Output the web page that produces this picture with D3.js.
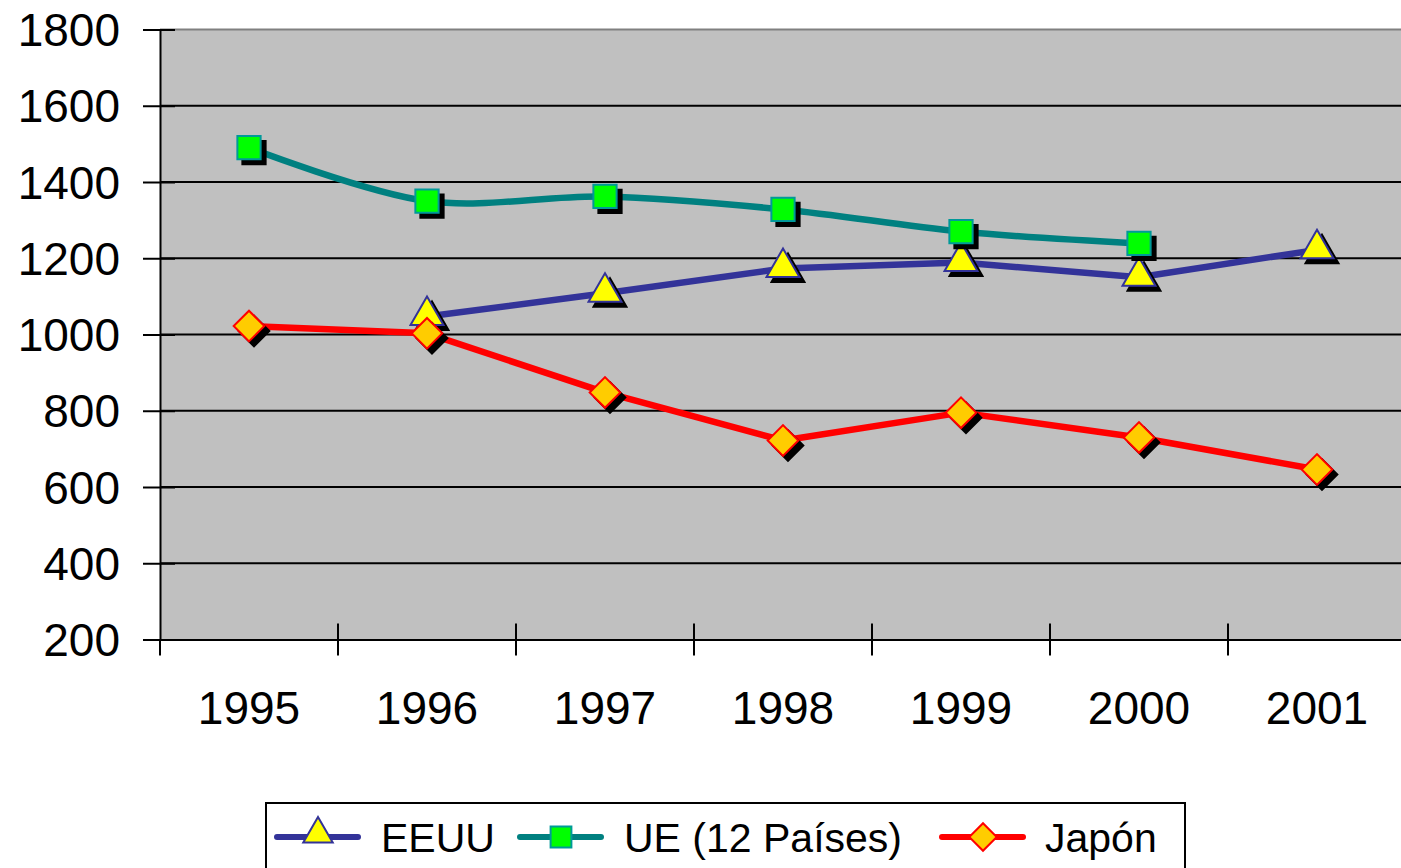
<!DOCTYPE html>
<html><head><meta charset="utf-8">
<script src="https://cdn.jsdelivr.net/npm/d3@7"></script>
<style>body{margin:0;background:#fff;overflow:hidden}svg{display:block}text{font-family:"Liberation Sans",Arial,sans-serif;fill:#000}</style>
</head><body>
<svg id="c" width="1401" height="868"></svg>
<script>
const years = ["1995","1996","1997","1998","1999","2000","2001"];
const eeuu = [null, 1047, 1108, 1173, 1189, 1150, 1222];
const ue = [1490, 1350, 1362, 1328, 1270, 1239, null];
const japon = [1022, 1003, 848, 722, 795, 730, 646];
const yTicks = [200,400,600,800,1000,1200,1400,1600,1800];
const seriesNames = ["EEUU","UE (12 Países)","Japón"];

const svg = d3.select("#c");
const x = d3.scaleBand().domain(years).range([160, 1406]).padding(0);
const y = d3.scaleLinear().domain([200,1800]).range([639.5, 29.5]);

svg.append("rect").attr("x",160).attr("y",y(1800)).attr("width",1246).attr("height",y(200)-y(1800)).attr("fill","#C0C0C0");
svg.append("line").attr("x1",160).attr("x2",1401).attr("y1",y(1800)).attr("y2",y(1800)).attr("stroke","#808080").attr("stroke-width",2);
svg.append("g").selectAll("line").data(yTicks.filter(d=>d>200 && d<1800)).join("line")
  .attr("x1",160).attr("x2",1406).attr("y1",d=>y(d)).attr("y2",d=>y(d)).attr("stroke","#000").attr("stroke-width",2);

const yAxis = d3.axisLeft(y).tickValues(yTicks).tickSize(0).tickPadding(40).tickFormat(d3.format("d"));
const gy = svg.append("g").attr("transform","translate(160,0)").call(yAxis);
gy.select(".domain").attr("stroke","#000").attr("stroke-width",2);
gy.selectAll("text").attr("font-size",46).attr("font-family","Liberation Sans, Arial, sans-serif").attr("dy","0.35em");
gy.selectAll(".tick").append("line").attr("x1",-17).attr("x2",15).attr("stroke","#000").attr("stroke-width",2);

const xAxis = d3.axisBottom(x).tickSize(0).tickPadding(52);
const gx = svg.append("g").attr("transform",`translate(0,${y(200)})`).call(xAxis);
gx.select(".domain").attr("stroke","#000").attr("stroke-width",2);
gx.selectAll("text").attr("font-size",46).attr("font-family","Liberation Sans, Arial, sans-serif");
const bounds = years.map(d=>x(d)).concat([x(years[6])+x.bandwidth()]);
gx.append("g").selectAll("line").data(bounds).join("line")
  .attr("x1",d=>d).attr("x2",d=>d).attr("y1",(d,i)=>i===0?0:-16).attr("y2",16).attr("stroke","#000").attr("stroke-width",2);

const cx = d => x(d) + x.bandwidth()/2;

const styles = [
  {data:eeuu, color:"#333399", curve:d3.curveLinear, sym:d3.symbolTriangle, size:470, rot:0, fill:"#FFFF00", stroke:"#333399", dy:-1},
  {data:ue, color:"#008080", curve:d3.curveCatmullRom.alpha(0.5), sym:d3.symbolSquare, size:540, rot:0, fill:"#00FF00", stroke:"#009999", dy:0},
  {data:japon, color:"#FF0000", curve:d3.curveLinear, sym:d3.symbolSquare, size:470, rot:45, fill:"#FFCC00", stroke:"#FF0000", dy:0}
];

styles.forEach(s=>{
  const pts = years.map((yr,i)=>({yr, v:s.data[i]})).filter(p=>p.v!==null);
  const line = d3.line().x(p=>cx(p.yr)).y(p=>y(p.v)).curve(s.curve);
  svg.append("path").attr("d",line(pts)).attr("fill","none").attr("stroke",s.color).attr("stroke-width",6.5).attr("stroke-linejoin","round");
  const sym = d3.symbol().type(s.sym).size(s.size);
  const g = svg.append("g");
  g.selectAll("path.sh").data(pts).join("path").attr("class","sh").attr("d",sym)
    .attr("transform",p=>`translate(${cx(p.yr)+5},${y(p.v)+s.dy+5}) rotate(${s.rot})`).attr("fill","#000").attr("stroke","#000").attr("stroke-width",2);
  g.selectAll("path.mk").data(pts).join("path").attr("class","mk").attr("d",sym)
    .attr("transform",p=>`translate(${cx(p.yr)},${y(p.v)+s.dy}) rotate(${s.rot})`).attr("fill",s.fill).attr("stroke",s.stroke).attr("stroke-width",2);
});

const lg = svg.append("g");
lg.append("rect").attr("x",266).attr("y",803).attr("width",919).attr("height",80).attr("fill","#fff").attr("stroke","#000").attr("stroke-width",2);
const legX = [277, 520, 942];
const txtX = [381, 624, 1045];
styles.forEach((s,i)=>{
  const ly = 837;
  lg.append("line").attr("x1",legX[i]).attr("x2",legX[i]+81).attr("y1",ly).attr("y2",ly).attr("stroke",s.color).attr("stroke-width",6).attr("stroke-linecap","round");
  lg.append("path").attr("d",d3.symbol().type(s.sym).size(s.size*0.8)).attr("transform",`translate(${legX[i]+41},${ly+(i===0?-3:0)}) rotate(${s.rot})`)
    .attr("fill",s.fill).attr("stroke",s.stroke).attr("stroke-width",2);
  lg.append("text").attr("x",txtX[i]).attr("y",852).attr("font-size",41).text(seriesNames[i]);
});
</script>
</body></html>
